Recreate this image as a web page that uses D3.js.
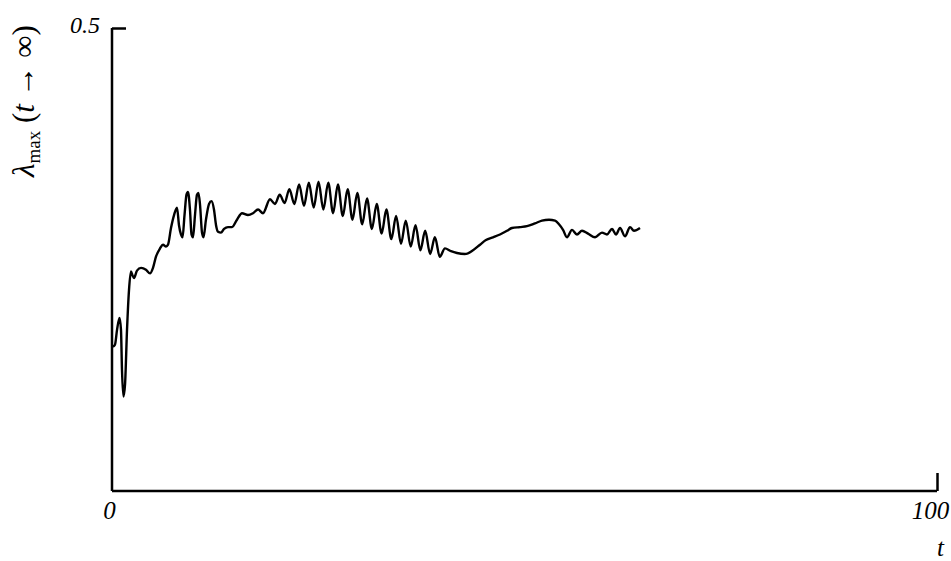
<!DOCTYPE html>
<html>
<head>
<meta charset="utf-8">
<script src="https://cdn.jsdelivr.net/npm/d3@7"></script>
<style>
  body { margin: 0; background: #fff; }
  svg { display: block; }
  .axis path, .axis line { stroke: #000; stroke-width: 2.5; }
  .axis text { font-family: "Liberation Serif", "Times New Roman", Times, serif; font-style: italic; fill: #000; }
  .title { font-family: "Liberation Serif", "Times New Roman", Times, serif; fill: #000; }
</style>
</head>
<body>
<div id="chart"></div>
<script>
// values
var tValues = [
  0.12, 0.36, 0.61, 0.91, 1.09, 1.21, 1.39, 1.58, 1.82, 2.06, 2.30, 2.48, 2.67, 3.03, 3.52, 4.12,
  4.61, 4.97, 5.33, 5.82, 6.18, 6.55, 6.79, 7.15, 7.52, 7.88, 8.12, 8.36, 8.55, 8.79, 9.03, 9.21,
  9.45, 9.64, 9.82, 10.06, 10.30, 10.48, 10.67, 10.91, 11.09, 11.39, 11.76, 12.06, 12.36, 12.61,
  12.85, 13.21, 13.58, 14.06, 14.55, 15.15, 15.76, 16.48, 17.09, 17.70, 18.30,
  19.15, 19.75, 20.33, 20.92, 21.50, 22.10, 22.68, 23.27, 23.86, 24.45, 25.03, 25.62, 26.21, 26.80,
  27.38, 27.98, 28.56, 29.15, 29.73, 30.33, 30.91, 31.50, 32.09, 32.68, 33.26, 33.86, 34.44, 35.03,
  35.61, 36.21, 36.79, 37.38, 37.96, 38.56, 39.14, 39.73,
  40.36, 41.09, 41.82, 42.79, 43.76, 44.61, 45.33, 46.18, 47.03, 47.88, 48.48, 49.45, 50.30, 51.27,
  52.12, 52.97, 53.70, 54.18, 54.67, 55.15, 55.76, 56.36, 56.97, 57.70, 58.55, 59.39, 60.00, 60.61,
  61.09, 61.58, 62.18, 62.79, 63.27, 64.00
];
var lambdaValues = [
  0.156, 0.158, 0.174, 0.187, 0.174, 0.131, 0.102, 0.115, 0.174, 0.217, 0.237, 0.233, 0.230, 0.238, 0.241, 0.239,
  0.235, 0.241, 0.253, 0.262, 0.266, 0.264, 0.266, 0.284, 0.298, 0.306, 0.287, 0.277, 0.274, 0.298, 0.320, 0.323,
  0.304, 0.277, 0.274, 0.298, 0.320, 0.322, 0.309, 0.279, 0.274, 0.293, 0.310, 0.313, 0.304, 0.287,
  0.280, 0.279, 0.283, 0.285, 0.285, 0.293, 0.300, 0.298, 0.300, 0.304, 0.300,
  0.315, 0.310, 0.320, 0.311, 0.326, 0.310, 0.331, 0.308, 0.333, 0.306, 0.334, 0.304, 0.333, 0.300,
  0.331, 0.297, 0.326, 0.293, 0.322, 0.288, 0.316, 0.283, 0.310, 0.278, 0.304, 0.272, 0.297, 0.267,
  0.292, 0.264, 0.287, 0.260, 0.281, 0.256, 0.274, 0.253,
  0.262, 0.259, 0.257, 0.256, 0.260, 0.266, 0.271, 0.274, 0.277, 0.281, 0.284, 0.285, 0.286, 0.289,
  0.292, 0.293, 0.292, 0.288, 0.282, 0.274, 0.282, 0.277, 0.281, 0.278, 0.274, 0.279, 0.277, 0.283,
  0.277, 0.284, 0.275, 0.285, 0.281, 0.284
];
var xTicks = [0, 100];
var yTicks = [0.5];

var width = 951, height = 561;
var margin = { top: 28, right: 14, bottom: 70, left: 112 };

var svg = d3.select("#chart").append("svg")
  .attr("width", width)
  .attr("height", height);

var x = d3.scaleLinear().domain([0, 100]).range([margin.left, width - margin.right]);
var y = d3.scaleLinear().domain([0, 0.5]).range([height - margin.bottom, margin.top]);

var data = tValues.map(function(t, i) { return { t: t, v: lambdaValues[i] }; });

// x axis, tick pointing inward (up)
var xAxis = svg.append("g")
  .attr("class", "axis")
  .attr("transform", "translate(0," + y(0) + ")")
  .call(d3.axisBottom(x).tickValues(xTicks).tickSize(-18).tickSizeOuter(0).tickPadding(10)
    .tickFormat(function(d) { return String(d); }));
xAxis.attr("font-family", null).attr("font-size", null);
xAxis.select(".domain").attr("d", "M" + x(0) + ",0H" + x(100));
xAxis.selectAll(".tick").filter(function(d) { return d === 0; }).select("line").remove();
xAxis.selectAll("text").style("font-size", "25px");
xAxis.selectAll(".tick").filter(function(d) { return d === 0; }).select("text").attr("dx", "-3");
xAxis.selectAll(".tick").filter(function(d) { return d === 100; }).select("text").attr("dx", "-7");

// y axis, tick pointing inward (right)
var yAxis = svg.append("g")
  .attr("class", "axis")
  .attr("transform", "translate(" + x(0) + ",0)")
  .call(d3.axisLeft(y).tickValues(yTicks).tickSize(-14).tickSizeOuter(0).tickPadding(12)
    .tickFormat(d3.format(".1f")));
yAxis.attr("font-family", null).attr("font-size", null);
yAxis.select(".domain").attr("d", "M0," + y(0.5) + "V" + y(0));
yAxis.selectAll("text").style("font-size", "24px").attr("dy", "0.2em");

// the curve
var line = d3.line()
  .x(function(d) { return x(d.t); })
  .y(function(d) { return y(d.v); })
  .curve(d3.curveMonotoneX);

svg.append("path")
  .datum(data)
  .attr("fill", "none")
  .attr("stroke", "#000")
  .attr("stroke-width", 2.4)
  .attr("stroke-linejoin", "round")
  .attr("d", line);

// axis titles
svg.append("text")
  .attr("class", "title")
  .attr("x", 944)
  .attr("y", 556)
  .attr("text-anchor", "end")
  .style("font-style", "italic")
  .style("font-size", "25px")
  .text("t");

var yTitle = svg.append("text")
  .attr("class", "title")
  .attr("transform", "translate(34,177) rotate(-90)")
  .style("font-size", "31px");
yTitle.append("tspan").style("font-style", "italic").text("λ");
yTitle.append("tspan").attr("dy", 6).style("font-size", "19px").text("max");
yTitle.append("tspan").attr("dy", -6).text(" (");
yTitle.append("tspan").style("font-style", "italic").text("t");
yTitle.append("tspan").text(" → ∞)");
</script>
</body>
</html>
